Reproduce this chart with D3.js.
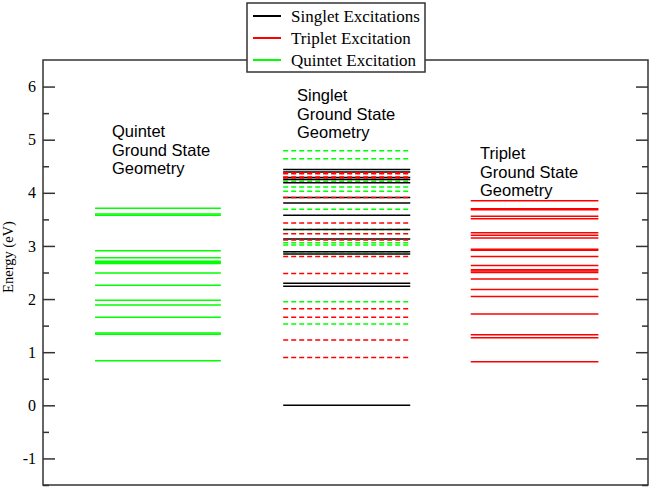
<!DOCTYPE html>
<html>
<head>
<meta charset="utf-8">
<script src="https://cdn.jsdelivr.net/npm/d3@7/dist/d3.min.js"></script>
<style>
  body { margin: 0; background: #fff; }
  .tickLabel { font-family: "Liberation Serif", "Times New Roman", serif; font-size: 16px; }
  .axisLabel { font-family: "Liberation Serif", "Times New Roman", serif; font-size: 14.5px; }
  .note { font-family: "Liberation Sans", Arial, sans-serif; font-size: 16.5px; }
  .legendText { font-family: "Liberation Serif", "Times New Roman", serif; font-size: 17px; }
</style>
</head>
<body>
<svg class="chart"></svg>
<script>
// excitation energies (eV)
var quintetGeomQuintet = [3.71, 3.60, 3.58, 2.91, 2.78, 2.71, 2.69, 2.67, 2.49, 2.26, 1.98, 1.89, 1.66, 1.36, 1.34, 0.84];
var singletGeomSinglet = [4.44, 4.39, 4.29, 4.25, 4.19, 3.91, 3.81, 3.58, 3.31, 3.13, 2.89, 2.85, 2.30, 2.24, 0.0];
var singletGeomTriplet = [4.38, 4.36, 4.30, 4.28, 3.91, 3.43, 3.23, 3.11, 2.80, 2.48, 1.82, 1.66, 1.23, 0.90];
var singletGeomQuintet = [4.79, 4.64, 4.22, 4.11, 4.03, 3.69, 3.31, 3.06, 3.02, 2.89, 1.95, 1.53];
var tripletGeomTriplet = [3.85, 3.70, 3.68, 3.56, 3.51, 3.25, 3.20, 3.15, 2.94, 2.92, 2.80, 2.63, 2.55, 2.53, 2.50, 2.38, 2.18, 2.05, 1.72, 1.33, 1.27, 0.82];

var yTicks = [-1, 0, 1, 2, 3, 4, 5, 6];
var yMinorTicks = [-1.5, -0.5, 0.5, 1.5, 2.5, 3.5, 4.5, 5.5];
var legendLabels = ["Singlet Excitations", "Triplet Excitation", "Quintet Excitation"];
var legendColors = ["#000000", "#ff0000", "#00ff00"];
var notes = [
  ["Quintet", "Ground State", "Geometry"],
  ["Singlet", "Ground State", "Geometry"],
  ["Triplet", "Ground State", "Geometry"]
];

var chartWidth = 653, chartHeight = 488;
var plotLeft = 43, plotRight = 648, plotTop = 60, plotBottom = 485;

var svg = d3.select(".chart").attr("width", chartWidth).attr("height", chartHeight);

var x = d3.scaleLinear().domain([0, 1]).range([plotLeft, plotRight]);
var y = d3.scaleLinear().domain([-1.5, 6.5]).range([plotBottom, plotTop]);

// horizontal spans of the three columns, in x-domain units
var cols = [[0.086, 0.294], [0.397, 0.607], [0.707, 0.918]];

function drawLevels(data, col, color, dashed) {
  svg.append("g").selectAll("line").data(data).enter().append("line")
     .attr("x1", x(cols[col][0]))
     .attr("x2", x(cols[col][1]))
     .attr("y1", function(d) { return y(d); })
     .attr("y2", function(d) { return y(d); })
     .attr("stroke", color)
     .attr("stroke-width", 1.5)
     .attr("stroke-dasharray", dashed ? "5,3" : null);
}

drawLevels(quintetGeomQuintet, 0, "#00ff00", false);
drawLevels(singletGeomQuintet, 1, "#00ff00", true);
drawLevels(singletGeomSinglet, 1, "#000000", false);
drawLevels(singletGeomTriplet, 1, "#ff0000", true);
drawLevels(tripletGeomTriplet, 2, "#ff0000", false);

// frame
svg.append("rect")
   .attr("x", plotLeft).attr("y", plotTop)
   .attr("width", plotRight - plotLeft).attr("height", plotBottom - plotTop)
   .attr("fill", "none").attr("stroke", "#333").attr("stroke-width", 1.5);

// inward ticks on left and right
svg.append("g").attr("transform", "translate(" + plotLeft + ",0)")
   .call(d3.axisRight(y).tickValues(yTicks).tickSize(12).tickFormat(""));
svg.append("g").attr("transform", "translate(" + plotLeft + ",0)")
   .call(d3.axisRight(y).tickValues(yMinorTicks).tickSize(6).tickFormat(""));
svg.append("g").attr("transform", "translate(" + plotRight + ",0)")
   .call(d3.axisLeft(y).tickValues(yTicks).tickSize(12).tickFormat(""));
svg.append("g").attr("transform", "translate(" + plotRight + ",0)")
   .call(d3.axisLeft(y).tickValues(yMinorTicks).tickSize(6).tickFormat(""));
svg.selectAll(".domain").remove();
svg.selectAll(".tick line").attr("stroke", "#333").attr("stroke-width", 1.5);

svg.append("g").selectAll("text").data(yTicks).enter().append("text")
   .attr("class", "tickLabel")
   .attr("x", plotLeft - 7)
   .attr("y", function(d) { return y(d); })
   .attr("dy", "0.35em")
   .attr("text-anchor", "end")
   .text(function(d) { return d; });

svg.append("text")
   .attr("class", "axisLabel")
   .attr("transform", "translate(13," + 257 + ") rotate(-90)")
   .attr("text-anchor", "middle")
   .text("Energy (eV)");

// column annotations
var noteTop = [131, 95, 153];
var noteX = [112, 297, 480];
notes.forEach(function(lines, i) {
  var t = svg.append("text").attr("class", "note");
  lines.forEach(function(s, j) {
    t.append("tspan").attr("x", noteX[i]).attr("y", noteTop[i] + 6 + j * 18.5).text(s);
  });
});

// legend
var lg = svg.append("g");
lg.append("rect").attr("x", 247).attr("y", 3).attr("width", 178).attr("height", 69)
  .attr("fill", "#fff").attr("stroke", "#333").attr("stroke-width", 1.5);
legendLabels.forEach(function(s, i) {
  var ly = 16 + i * 22;
  lg.append("line").attr("x1", 253).attr("x2", 281).attr("y1", ly).attr("y2", ly)
    .attr("stroke", legendColors[i]).attr("stroke-width", 2);
  lg.append("text").attr("class", "legendText").attr("x", 291).attr("y", ly).attr("dy", "0.35em").text(s);
});
</script>
</body>
</html>
